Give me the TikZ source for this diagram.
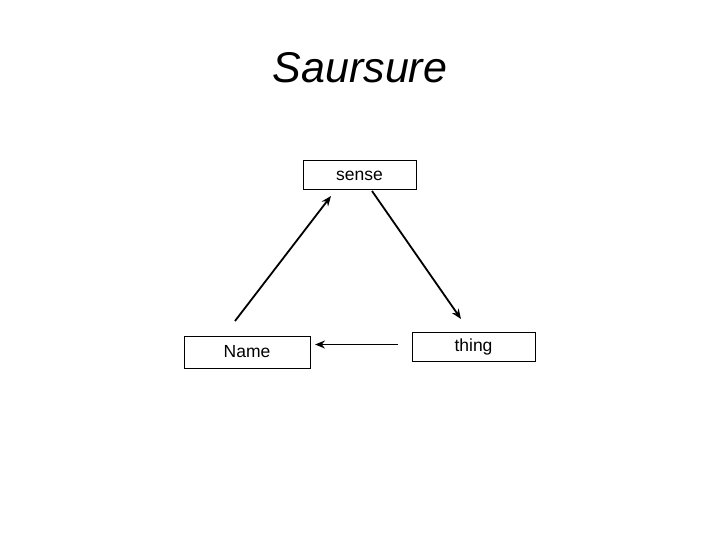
\documentclass[tikz,border=0pt]{standalone}
\usepackage{fontspec}
\setmainfont{Liberation Sans}
\usetikzlibrary{arrows.meta}
\begin{document}
\begin{tikzpicture}[x=1pt,y=-1pt,
  box/.style={draw=black,line width=1pt,inner sep=0pt,font=\fontsize{17.5}{20}\selectfont},
  conn/.style={line width=1.8pt,-{Stealth[length=10pt,width=8pt]}}]
\useasboundingbox[fill=white] (0,0) rectangle (720,540);
\node[font=\fontsize{43}{50}\selectfont\itshape] (title) at (360,68) {Saursure};
\node[box,minimum width=113pt,minimum height=29pt] (sense) at (359.5,175.5) {sense};
\node[box,minimum width=126pt,minimum height=32pt] (name) at (247,352) {Name};
\node[box,minimum width=123pt,minimum height=29pt] (thing) at (473.5,346.5) {thing};
\coordinate (a1) at (235,321);
\coordinate (a2) at (331,196);
\coordinate (b1) at (372,191);
\coordinate (b2) at (461,319);
\coordinate (c1) at (398,344.5);
\coordinate (c2) at (315,344.5);
\draw[conn] (a1) -- (a2);
\draw[conn] (b1) -- (b2);
\draw[conn] (c1) -- (c2);
\end{tikzpicture}
\end{document}
